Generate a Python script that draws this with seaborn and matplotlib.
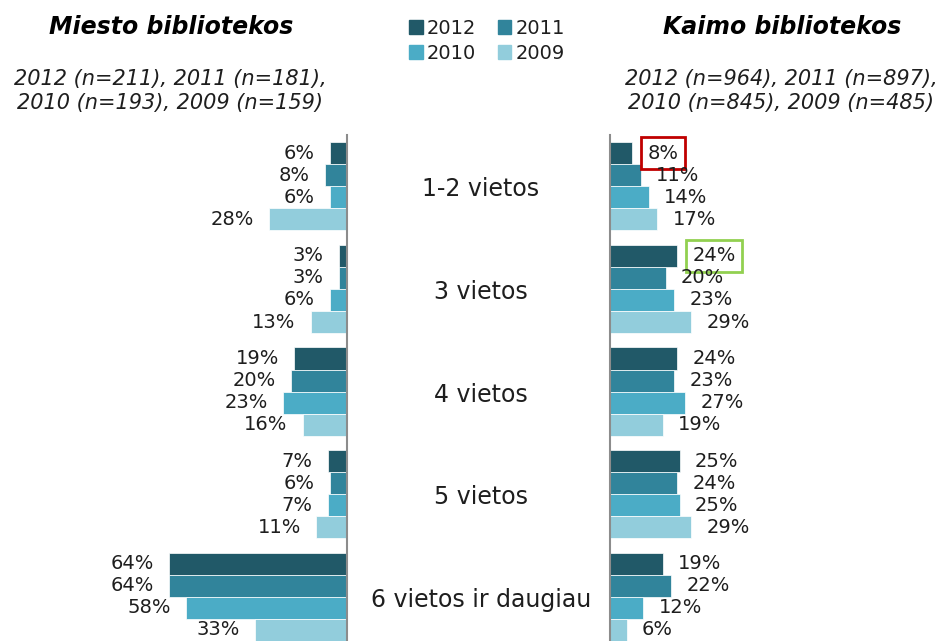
import matplotlib
matplotlib.use("Agg")

import matplotlib.pyplot as plt
import matplotlib.patches as mpatches
import matplotlib.transforms as mtransforms
import pandas as pd
import seaborn as sns

# ---- data -------------------------------------------------------------
categories = ["1-2 vietos", "3 vietos", "4 vietos", "5 vietos", "6 vietos ir daugiau"]
years = ["2012", "2011", "2010", "2009"]

miesto_2012 = [6, 3, 19, 7, 64]
miesto_2011 = [8, 3, 20, 6, 64]
miesto_2010 = [6, 6, 23, 7, 58]
miesto_2009 = [28, 13, 16, 11, 33]

kaimo_2012 = [8, 24, 24, 25, 19]
kaimo_2011 = [11, 20, 23, 24, 22]
kaimo_2010 = [14, 23, 27, 25, 12]
kaimo_2009 = [17, 29, 19, 29, 6]

miesto_title = "Miesto bibliotekos"
miesto_n = "2012 (n=211), 2011 (n=181),\n2010 (n=193), 2009 (n=159)"
kaimo_title = "Kaimo bibliotekos"
kaimo_n = "2012 (n=964), 2011 (n=897),\n2010 (n=845), 2009 (n=485)"

palette = ["#215968", "#31849B", "#4BACC6", "#92CDDC"]
TEXT = "#1e1e1e"
AXIS = "#8c8c8c"


def long_frame(series):
    rows = []
    for year, vals in zip(years, series):
        for cat, v in zip(categories, vals):
            rows.append({"cat": cat, "year": year, "value": v})
    return pd.DataFrame(rows)


df_m = long_frame([miesto_2012, miesto_2011, miesto_2010, miesto_2009])
df_k = long_frame([kaimo_2012, kaimo_2011, kaimo_2010, kaimo_2009])

sns.set_theme(style="white")
plt.rcParams["font.family"] = ["DejaVu Sans"]

W, H = 945, 641
fig = plt.figure(figsize=(W / 100, H / 100), dpi=100)

top_px = 135
ax_h = (H - top_px) / H
ax_l = fig.add_axes([0.0, 0.0, 347 / W, ax_h])
ax_r = fig.add_axes([610 / W, 0.0, (W - 610) / W, ax_h])

for ax, df in ((ax_l, df_m), (ax_r, df_k)):
    sns.barplot(data=df, y="cat", x="value", hue="year", hue_order=years,
                order=categories, palette=palette, orient="h", width=0.86,
                saturation=1, edgecolor="white", linewidth=0.5, legend=False, ax=ax)
    ax.set_ylim(4.43, -0.5)
    ax.set_xlabel("")
    ax.set_ylabel("")
    ax.set_xticks([])
    ax.set_yticks([])
    for s in ax.spines.values():
        s.set_visible(False)

ax_l.set_xlim(125, 0)
ax_r.set_xlim(0, 120)
ax_l.spines["right"].set_visible(True)
ax_l.spines["right"].set_color(AXIS)
ax_l.spines["right"].set_linewidth(1.5)
ax_r.spines["left"].set_visible(True)
ax_r.spines["left"].set_color(AXIS)
ax_r.spines["left"].set_linewidth(1.5)

# value labels
for ax, series in ((ax_l, [miesto_2012, miesto_2011, miesto_2010, miesto_2009]),
                   (ax_r, [kaimo_2012, kaimo_2011, kaimo_2010, kaimo_2009])):
    for k, (cont, vals) in enumerate(zip(ax.containers, series)):
        for j, (bar, v) in enumerate(zip(cont, vals)):
            y = bar.get_y() + bar.get_height() / 2
            x = bar.get_x() + bar.get_width()
            if ax is ax_l:
                ax.annotate(f"{v}%", (x, y), xytext=(-11, 0), textcoords="offset points",
                            ha="right", va="center", fontsize=14, color=TEXT,
                            annotation_clip=False)
            else:
                t = ax.annotate(f"{v}%", (x, y), xytext=(11, 0), textcoords="offset points",
                                ha="left", va="center", fontsize=14, color=TEXT,
                                annotation_clip=False)
                # highlighted 2012 values
                if k == 0 and j == 0:
                    t.set_bbox(dict(boxstyle="square,pad=0.33", fc="white", ec="#C00000", lw=2))
                if k == 0 and j == 1:
                    t.set_bbox(dict(boxstyle="square,pad=0.33", fc="white", ec="#92D050", lw=2))

# category labels in the middle
trans = mtransforms.blended_transform_factory(fig.transFigure, ax_r.transData)
for i, cat in enumerate(categories):
    fig.text(481 / W, i + 0.03, cat, transform=trans, ha="center", va="center",
             fontsize=17, color=TEXT)

# titles
fig.text(171 / W, 1 - 27 / H, miesto_title, ha="center", va="center", fontsize=17,
         fontweight="bold", fontstyle="italic", color="black")
fig.text(170 / W, 1 - 91 / H, miesto_n, ha="center", va="center", fontsize=15,
         fontstyle="italic", color=TEXT, linespacing=1.3)
fig.text(782 / W, 1 - 27 / H, kaimo_title, ha="center", va="center", fontsize=17,
         fontweight="bold", fontstyle="italic", color="black")
fig.text(781 / W, 1 - 91 / H, kaimo_n, ha="center", va="center", fontsize=15,
         fontstyle="italic", color=TEXT, linespacing=1.3)

# legend
handles = [mpatches.Patch(color=c, label=y) for c, y in zip(palette, years)]
order = [0, 2, 1, 3]
fig.legend([handles[i] for i in order], [years[i] for i in order], ncol=2,
           loc="center", bbox_to_anchor=(487 / W, 1 - 41 / H), frameon=False,
           fontsize=14, handlelength=0.7, handleheight=0.7, handletextpad=0.2,
           columnspacing=1.1, labelspacing=0.3, labelcolor=TEXT)

fig.savefig("out.png", dpi=100)
